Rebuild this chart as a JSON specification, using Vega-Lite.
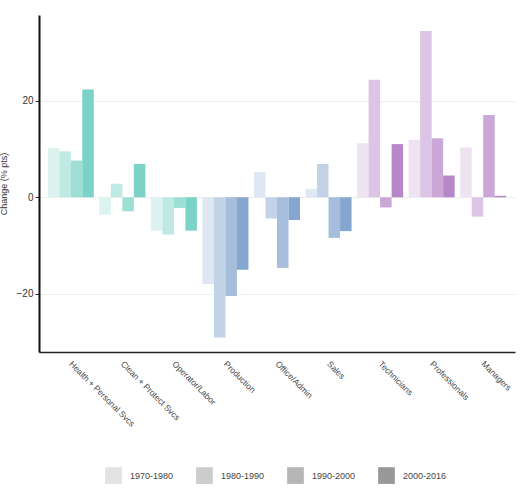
{
  "$schema": "https://vega.github.io/schema/vega-lite/v6.json",
  "autosize": {"type": "none"},
  "width": 476,
  "height": 337,
  "padding": {"left": 39, "top": 15, "right": 7, "bottom": 144},
  "background": "white",
  "config": {
    "font": "Liberation Sans",
    "view": {"stroke": null},
    "axis": {"labelFont": "Liberation Sans", "titleFont": "Liberation Sans"}
  },
  "data": {
    "values": [
      {"occupation": "Health + Personal Svcs", "family": "service", "period": "1970-1980", "change": 10.2},
      {"occupation": "Health + Personal Svcs", "family": "service", "period": "1980-1990", "change": 9.5},
      {"occupation": "Health + Personal Svcs", "family": "service", "period": "1990-2000", "change": 7.6},
      {"occupation": "Health + Personal Svcs", "family": "service", "period": "2000-2016", "change": 22.3},
      {"occupation": "Clean + Protect Svcs", "family": "service", "period": "1970-1980", "change": -3.6},
      {"occupation": "Clean + Protect Svcs", "family": "service", "period": "1980-1990", "change": 2.8},
      {"occupation": "Clean + Protect Svcs", "family": "service", "period": "1990-2000", "change": -2.9},
      {"occupation": "Clean + Protect Svcs", "family": "service", "period": "2000-2016", "change": 6.9},
      {"occupation": "Operator/Labor", "family": "service", "period": "1970-1980", "change": -6.9},
      {"occupation": "Operator/Labor", "family": "service", "period": "1980-1990", "change": -7.7},
      {"occupation": "Operator/Labor", "family": "service", "period": "1990-2000", "change": -2.2},
      {"occupation": "Operator/Labor", "family": "service", "period": "2000-2016", "change": -6.9},
      {"occupation": "Production", "family": "middle", "period": "1970-1980", "change": -18.0},
      {"occupation": "Production", "family": "middle", "period": "1980-1990", "change": -29.0},
      {"occupation": "Production", "family": "middle", "period": "1990-2000", "change": -20.4},
      {"occupation": "Production", "family": "middle", "period": "2000-2016", "change": -15.0},
      {"occupation": "Office/Admin", "family": "middle", "period": "1970-1980", "change": 5.2},
      {"occupation": "Office/Admin", "family": "middle", "period": "1980-1990", "change": -4.4},
      {"occupation": "Office/Admin", "family": "middle", "period": "1990-2000", "change": -14.6},
      {"occupation": "Office/Admin", "family": "middle", "period": "2000-2016", "change": -4.7},
      {"occupation": "Sales", "family": "middle", "period": "1970-1980", "change": 1.7},
      {"occupation": "Sales", "family": "middle", "period": "1980-1990", "change": 6.9},
      {"occupation": "Sales", "family": "middle", "period": "1990-2000", "change": -8.4},
      {"occupation": "Sales", "family": "middle", "period": "2000-2016", "change": -7.0},
      {"occupation": "Technicians", "family": "professional", "period": "1970-1980", "change": 11.2},
      {"occupation": "Technicians", "family": "professional", "period": "1980-1990", "change": 24.3},
      {"occupation": "Technicians", "family": "professional", "period": "1990-2000", "change": -2.1},
      {"occupation": "Technicians", "family": "professional", "period": "2000-2016", "change": 11.0},
      {"occupation": "Professionals", "family": "professional", "period": "1970-1980", "change": 11.9},
      {"occupation": "Professionals", "family": "professional", "period": "1980-1990", "change": 34.4},
      {"occupation": "Professionals", "family": "professional", "period": "1990-2000", "change": 12.2},
      {"occupation": "Professionals", "family": "professional", "period": "2000-2016", "change": 4.5},
      {"occupation": "Managers", "family": "professional", "period": "1970-1980", "change": 10.3},
      {"occupation": "Managers", "family": "professional", "period": "1980-1990", "change": -4.0},
      {"occupation": "Managers", "family": "professional", "period": "1990-2000", "change": 17.0},
      {"occupation": "Managers", "family": "professional", "period": "2000-2016", "change": 0.3}
    ]
  },
  "layer": [
    {
      "transform": [
        {"calculate": "datum.family + ' ' + datum.period", "as": "shade"}
      ],
      "mark": {"type": "bar", "strokeWidth": 0},
      "encoding": {
        "x": {
          "field": "occupation",
          "type": "nominal",
          "sort": null,
          "scale": {"paddingInner": 0.107, "paddingOuter": 0.17},
          "axis": {
            "title": null,
            "labelAngle": 45,
            "labelAlign": "left",
            "labelBaseline": "middle",
            "labelFontSize": 8.5,
            "labelColor": "#444",
            "labelPadding": 10,
            "ticks": false,
            "domainColor": "#222",
            "domainWidth": 1.5,
            "grid": false
          }
        },
        "xOffset": {
          "field": "period",
          "type": "nominal",
          "scale": {"paddingInner": 0, "paddingOuter": 0}
        },
        "y": {
          "field": "change",
          "type": "quantitative",
          "scale": {"domain": [-32, 37.7], "nice": false, "zero": false},
          "axis": {
            "title": "Change (% pts)",
            "titleFontSize": 9,
            "titleFontWeight": "normal",
            "titleColor": "#333",
            "titlePadding": 8,
            "values": [-20, 0, 20],
            "labelFontSize": 10,
            "labelColor": "#333",
            "tickColor": "#333",
            "tickSize": 4,
            "domainColor": "#111",
            "domainWidth": 2,
            "gridColor": "#eeeeee",
            "gridWidth": 1
          }
        },
        "fill": {
          "field": "shade",
          "type": "nominal",
          "scale": {
            "domain": [
              "service 1970-1980", "service 1980-1990", "service 1990-2000", "service 2000-2016",
              "middle 1970-1980", "middle 1980-1990", "middle 1990-2000", "middle 2000-2016",
              "professional 1970-1980", "professional 1980-1990", "professional 1990-2000", "professional 2000-2016"
            ],
            "range": [
              "#dcf3f0", "#bfe9e3", "#9edfd5", "#7bd2c6",
              "#dee7f2", "#c3d3e7", "#a6bedc", "#85a6cf",
              "#ede3f1", "#dbc4e5", "#caa7d7", "#b687c9"
            ]
          },
          "legend": null
        }
      }
    },
    {
      "transform": [{"filter": "datum.change > 1000"}],
      "mark": {"type": "bar"},
      "encoding": {
        "color": {
          "field": "period",
          "type": "nominal",
          "scale": {
            "domain": ["1970-1980", "1980-1990", "1990-2000", "2000-2016"],
            "range": ["#e3e3e3", "#cccccc", "#b6b6b6", "#999999"]
          },
          "legend": {
            "title": null,
            "orient": "none",
            "direction": "horizontal",
            "legendX": 66,
            "legendY": 452,
            "symbolType": "square",
            "symbolSize": 280,
            "symbolStrokeWidth": 0,
            "labelFontSize": 9,
            "labelColor": "#444",
            "labelOffset": 8,
            "columnPadding": 22
          }
        }
      }
    }
  ]
}
